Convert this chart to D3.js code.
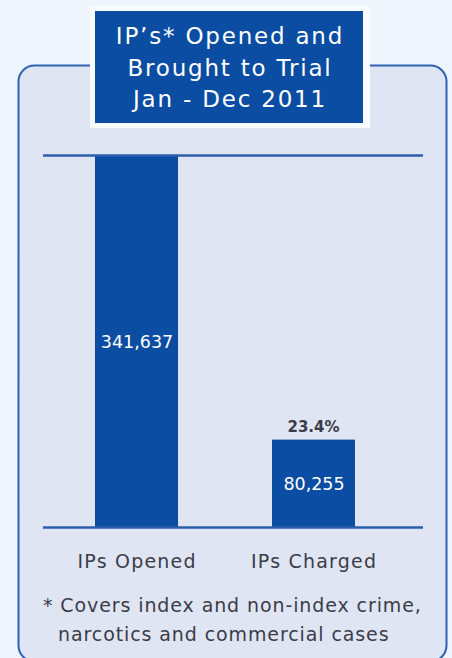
<!DOCTYPE html>
<html>
<head>
<meta charset="utf-8">
<script src="https://cdn.jsdelivr.net/npm/d3@7"></script>
<style>
  html, body { margin: 0; padding: 0; background: #eef5fc; }
  svg { display: block; }
  text { font-family: "DejaVu Sans", sans-serif; }
</style>
</head>
<body>
<svg id="chart" width="452" height="658"></svg>
<script>
// Investigation papers (IPs), January - December 2011
const categories = ["IPs Opened", "IPs Charged"];
const values = [341637, 80255];
const shareLabels = [null, "23.4%"];
const titleLines = ["IP\u2019s* Opened and", "Brought to Trial", "Jan - Dec 2011"];
const footnoteLines = ["* Covers index and non-index crime,", "narcotics and commercial cases"];

const W = 452, H = 658;
const blue = "#0b4da2";
const lineBlue = "#2d5cab";
const textGray = "#3b3c48";
const fontFamily = "\"DejaVu Sans\", sans-serif";

const svg = d3.select("#chart");

// page background
svg.append("rect").attr("width", W).attr("height", H).attr("fill", "#eef5fc");

// rounded panel holding the chart
svg.append("rect")
  .attr("x", 18.5).attr("y", 65.5)
  .attr("width", 428).attr("height", 596)
  .attr("rx", 16).attr("ry", 16)
  .attr("fill", "#dfe5f3")
  .attr("stroke", "#2f62b3")
  .attr("stroke-width", 2);

// title plate: white frame with a blue box inside
svg.append("rect")
  .attr("x", 90).attr("y", 6).attr("width", 280).attr("height", 122)
  .attr("fill", "#f8fbff");
svg.append("rect")
  .attr("x", 95).attr("y", 11).attr("width", 268).attr("height", 112)
  .attr("fill", blue);

svg.append("g")
  .selectAll("text")
  .data(titleLines)
  .join("text")
  .attr("x", 230)
  .attr("y", (d, i) => 44 + i * 31.5)
  .attr("text-anchor", "middle")
  .attr("fill", "#ffffff")
  .attr("font-size", 23)
  .attr("letter-spacing", 1.8)
  .text(d => d);

// scales
const plotLeft = 43, plotRight = 423;
const y = d3.scaleLinear()
  .domain([0, d3.max(values)])
  .range([527, 155]);

const x = d3.scaleBand()
  .domain(categories)
  .range([35, 415])
  .paddingInner(0.531)
  .paddingOuter(0.339);

// bars
svg.append("g")
  .selectAll("rect")
  .data(values)
  .join("rect")
  .attr("x", (d, i) => x(categories[i]))
  .attr("y", d => y(d))
  .attr("width", x.bandwidth())
  .attr("height", d => y(0) - y(d))
  .attr("fill", blue);

// top and base rules from the value axis
const grid = svg.append("g")
  .attr("transform", `translate(${plotLeft},0)`)
  .call(d3.axisLeft(y)
    .tickValues([0, d3.max(values)])
    .tickSize(-(plotRight - plotLeft))
    .tickFormat(""));
grid.select(".domain").remove();
grid.selectAll(".tick line")
  .attr("stroke", lineBlue)
  .attr("stroke-width", 2.5);

// value labels inside bars
const fmt = d3.format(",");
svg.append("g")
  .selectAll("text")
  .data(values)
  .join("text")
  .attr("x", (d, i) => x(categories[i]) + x.bandwidth() / 2 + 0.5)
  .attr("y", d => (y(d) + y(0)) / 2 + 7)
  .attr("text-anchor", "middle")
  .attr("fill", "#ffffff")
  .attr("font-size", 17.5)
  .text(d => fmt(d));

// percentage share above the second bar
svg.append("g")
  .selectAll("text")
  .data(values.map((v, i) => ({ v, label: shareLabels[i], c: categories[i] }))
    .filter(d => d.label))
  .join("text")
  .attr("x", d => x(d.c) + x.bandwidth() / 2)
  .attr("y", d => y(d.v) - 8)
  .attr("text-anchor", "middle")
  .attr("fill", textGray)
  .attr("font-size", 15)
  .attr("font-weight", 700)
  .text(d => d.label);

// category axis
const xAxis = svg.append("g")
  .attr("transform", `translate(0,${y(0)})`)
  .call(d3.axisBottom(x).tickSize(0));
xAxis.select(".domain").remove();
xAxis.selectAll(".tick text")
  .attr("y", 41)
  .attr("dy", 0)
  .attr("dx", 0.6)
  .attr("fill", textGray)
  .attr("font-size", 19)
  .attr("letter-spacing", 1.2)
  .attr("font-family", fontFamily);

// footnote
svg.append("g")
  .selectAll("text")
  .data(footnoteLines)
  .join("text")
  .attr("x", (d, i) => i === 0 ? 43 : 58)
  .attr("y", (d, i) => 612 + i * 29)
  .attr("fill", textGray)
  .attr("font-size", 19)
  .attr("letter-spacing", 0.9)
  .text(d => d);
</script>
</body>
</html>
